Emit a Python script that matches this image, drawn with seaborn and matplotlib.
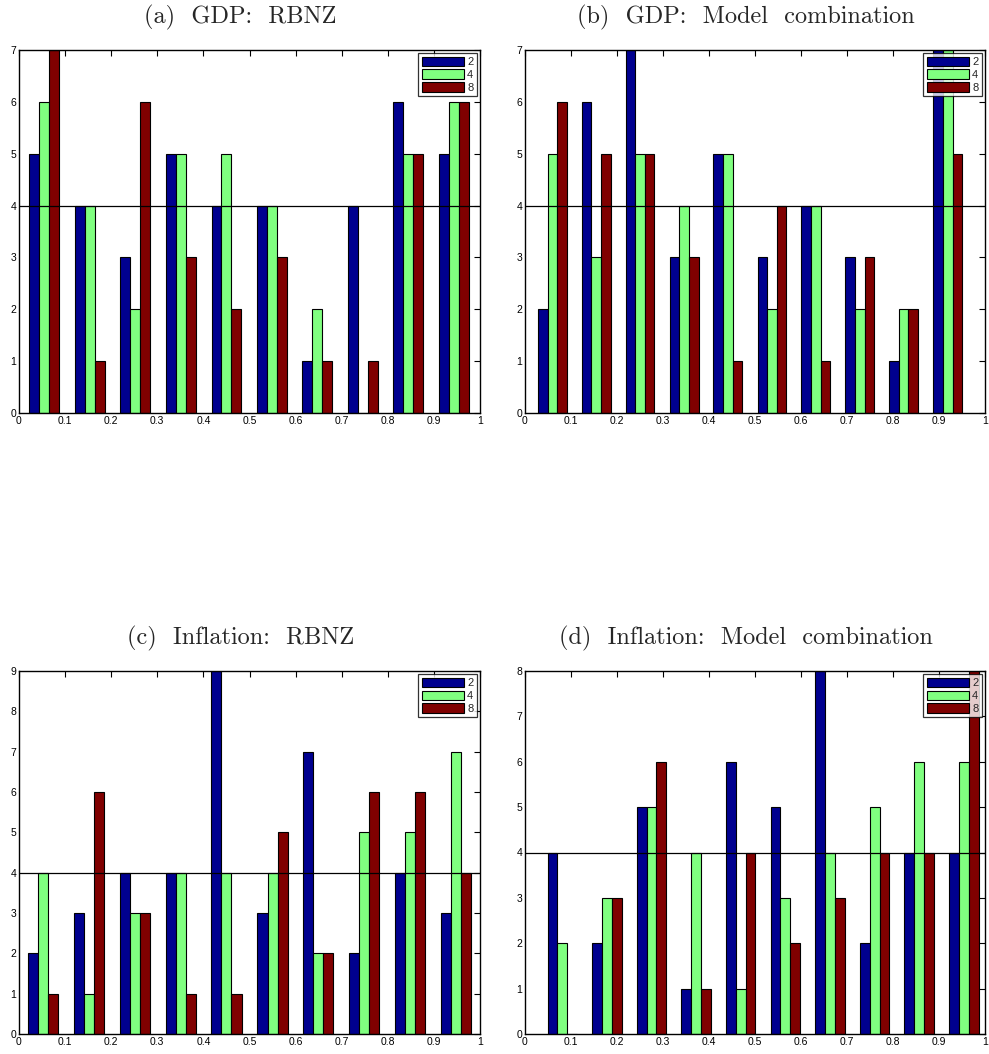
import matplotlib
matplotlib.use("Agg")
import matplotlib.pyplot as plt
import numpy as np
import pandas as pd
import seaborn as sns

# bin centres
centers_a = [0.055, 0.154, 0.252, 0.351, 0.450, 0.548, 0.647, 0.746, 0.844, 0.943]
centers_b = [0.060, 0.155, 0.250, 0.346, 0.441, 0.537, 0.632, 0.728, 0.823, 0.919]
centers_c = [0.053, 0.152, 0.252, 0.351, 0.450, 0.550, 0.649, 0.749, 0.848, 0.948]
centers_d = [0.081, 0.178, 0.275, 0.372, 0.469, 0.566, 0.663, 0.760, 0.857, 0.954]

# counts per horizon
gdp_rbnz_2 = [5, 4, 3, 5, 4, 4, 1, 4, 6, 5]
gdp_rbnz_4 = [6, 4, 2, 5, 5, 4, 2, 0, 5, 6]
gdp_rbnz_8 = [7, 1, 6, 3, 2, 3, 1, 1, 5, 6]

gdp_comb_2 = [2, 6, 7, 3, 5, 3, 4, 3, 1, 7]
gdp_comb_4 = [5, 3, 5, 4, 5, 2, 4, 2, 2, 7]
gdp_comb_8 = [6, 5, 5, 3, 1, 4, 1, 3, 2, 5]

inf_rbnz_2 = [2, 3, 4, 4, 9, 3, 7, 2, 4, 3]
inf_rbnz_4 = [4, 1, 3, 4, 4, 4, 2, 5, 5, 7]
inf_rbnz_8 = [1, 6, 3, 1, 1, 5, 2, 6, 6, 4]

inf_comb_2 = [4, 2, 5, 1, 6, 5, 8, 2, 4, 4]
inf_comb_4 = [2, 3, 5, 4, 1, 3, 4, 5, 6, 6]
inf_comb_8 = [0, 3, 6, 1, 4, 2, 3, 4, 4, 8]

horizons = ["2", "4", "8"]
titles = ["(a) GDP: RBNZ", "(b) GDP: Model combination",
          "(c) Inflation: RBNZ", "(d) Inflation: Model combination"]
ymax = [7, 7, 9, 8]
ref_level = 4
xticks = [0, 0.1, 0.2, 0.3, 0.4, 0.5, 0.6, 0.7, 0.8, 0.9, 1]
xticklabels = ["0", "0.1", "0.2", "0.3", "0.4", "0.5", "0.6", "0.7", "0.8", "0.9", "1"]

panels = [
    (centers_a, [gdp_rbnz_2, gdp_rbnz_4, gdp_rbnz_8]),
    (centers_b, [gdp_comb_2, gdp_comb_4, gdp_comb_8]),
    (centers_c, [inf_rbnz_2, inf_rbnz_4, inf_rbnz_8]),
    (centers_d, [inf_comb_2, inf_comb_4, inf_comb_8]),
]

sns.set_style("white")
plt.rcParams["font.family"] = ["Liberation Sans", "DejaVu Sans"]
plt.rcParams["axes.unicode_minus"] = False

palette = {"2": "#00008f", "4": "#80ff80", "8": "#800000"}

fig = plt.figure(figsize=(9.89, 10.54), dpi=100)
W, H = 989, 1054
boxes = [(19, 50, 480, 413), (525, 50, 985, 413),
         (19, 671, 480, 1034), (525, 671, 985, 1034)]

for i, ((centers, series), box) in enumerate(zip(panels, boxes)):
    x0, y0, x1, y1 = box
    ax = fig.add_axes([x0 / W, 1 - y1 / H, (x1 - x0) / W, (y1 - y0) / H])
    rows = []
    for h, vals in zip(horizons, series):
        for c, v in zip(centers, vals):
            rows.append({"center": c, "count": v, "horizon": h})
    df = pd.DataFrame(rows)
    sns.barplot(data=df, x="center", y="count", hue="horizon",
                hue_order=horizons, palette=palette, native_scale=True,
                width=0.66, edgecolor="black", linewidth=0.8,
                saturation=1, errorbar=None, ax=ax)
    ax.axhline(ref_level, color="black", linewidth=0.9, zorder=5)
    ax.set_xlim(0, 1)
    ax.set_ylim(0, ymax[i])
    ax.set_xticks(xticks)
    ax.set_xticklabels(xticklabels)
    ax.set_yticks(range(ymax[i] + 1))
    ax.set_xlabel("")
    ax.set_ylabel("")
    ax.tick_params(direction="in", top=True, right=True, length=4,
                   width=0.8, labelsize=7.5, pad=2, colors="black")
    for s in ax.spines.values():
        s.set_visible(True)
        s.set_linewidth(1.0)
        s.set_color("black")
    leg = ax.legend(loc="upper right", fontsize=8, frameon=True, fancybox=False,
                    edgecolor="black", handlelength=3.8, handleheight=0.95,
                    handletextpad=0.3, labelspacing=0.2, borderpad=0.3,
                    borderaxespad=0.3)
    leg.get_frame().set_linewidth(0.9)
    ax.set_title(titles[i].replace(" ", "  "), fontfamily="cmr10",
                 fontsize=17.5, pad=19, x=0.48)

fig.savefig("out.png", dpi=100)
